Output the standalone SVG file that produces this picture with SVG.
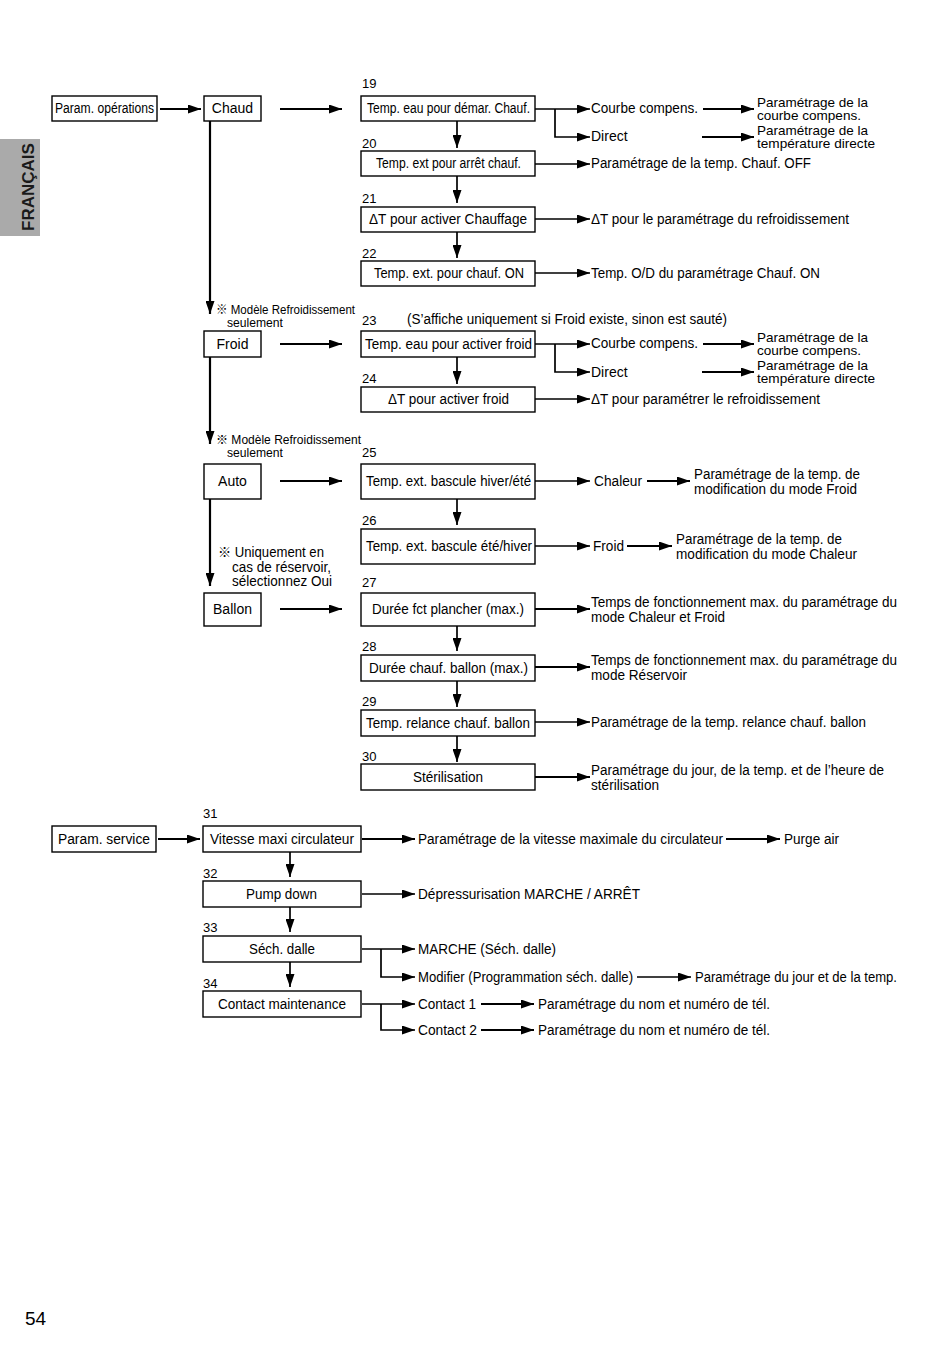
<svg xmlns="http://www.w3.org/2000/svg" width="950" height="1348" viewBox="0 0 950 1348">
<style>
text{font-family:"Liberation Sans",Arial,"Noto Sans CJK JP",sans-serif;fill:#000}
.b{font-size:14px}
.t{font-size:14px}
.s{font-size:13px}
.n{font-size:13px}
.m{text-anchor:middle}
rect.box{fill:#fff;stroke:#000;stroke-width:1.4}
.c path{fill:none;stroke:#000;stroke-width:1.7}
.c .k{stroke-width:2.2}
</style>
<defs>
<marker id="ah" viewBox="0 0 13 9" refX="13" refY="4.5" markerWidth="13" markerHeight="9" markerUnits="userSpaceOnUse" orient="auto"><path d="M0,0 L13,4.5 L0,9 z" fill="#000"/></marker>
</defs>
<rect width="950" height="1348" fill="#fff"/>
<g id="tab"><rect x="0" y="139" width="40" height="97" fill="#aaaaaa"/><text transform="translate(34,187) rotate(-90)" class="m" style="font-size:17px;font-weight:bold;fill:#1a1a1a">FRANÇAIS</text></g>
<text x="25" y="1325" style="font-size:19px">54</text>

<g class="c" id="connectors">
<path class="k" d="M160,109 H201" marker-end="url(#ah)"/>
<path class="k" d="M280,109 H342" marker-end="url(#ah)"/>
<path d="M535,109 H590" marker-end="url(#ah)"/>
<path d="M555,109 V137 H590" marker-end="url(#ah)"/>
<path class="k" d="M703,109 H754" marker-end="url(#ah)"/>
<path class="k" d="M702,137 H754" marker-end="url(#ah)"/>
<path d="M457,121 V148" marker-end="url(#ah)"/>
<path d="M535,164 H590" marker-end="url(#ah)"/>
<path d="M457,176 V203" marker-end="url(#ah)"/>
<path d="M535,219 H590" marker-end="url(#ah)"/>
<path d="M457,232 V258" marker-end="url(#ah)"/>
<path d="M535,273 H590" marker-end="url(#ah)"/>
<path class="k" d="M210,121 V314" marker-end="url(#ah)"/>
<path class="k" d="M280,344 H342" marker-end="url(#ah)"/>
<path d="M535,344 H590" marker-end="url(#ah)"/>
<path d="M555,344 V372 H590" marker-end="url(#ah)"/>
<path class="k" d="M703,344 H754" marker-end="url(#ah)"/>
<path class="k" d="M702,372 H754" marker-end="url(#ah)"/>
<path d="M457,357 V384" marker-end="url(#ah)"/>
<path d="M535,399 H590" marker-end="url(#ah)"/>
<path class="k" d="M210,357 V444" marker-end="url(#ah)"/>
<path class="k" d="M280,481 H342" marker-end="url(#ah)"/>
<path d="M535,481 H590" marker-end="url(#ah)"/>
<path class="k" d="M647,481 H690" marker-end="url(#ah)"/>
<path d="M457,499 V525" marker-end="url(#ah)"/>
<path d="M535,546 H590" marker-end="url(#ah)"/>
<path class="k" d="M627,546 H672" marker-end="url(#ah)"/>
<path class="k" d="M210,499 V586" marker-end="url(#ah)"/>
<path class="k" d="M280,609 H342" marker-end="url(#ah)"/>
<path class="k" d="M535,609 H590" marker-end="url(#ah)"/>
<path d="M457,626 V651" marker-end="url(#ah)"/>
<path class="k" d="M535,667 H590" marker-end="url(#ah)"/>
<path d="M457,681 V707" marker-end="url(#ah)"/>
<path d="M535,722 H590" marker-end="url(#ah)"/>
<path d="M457,736 V762" marker-end="url(#ah)"/>
<path class="k" d="M535,777 H590" marker-end="url(#ah)"/>
<path class="k" d="M158,839 H200" marker-end="url(#ah)"/>
<path class="k" d="M362,839 H415" marker-end="url(#ah)"/>
<path class="k" d="M726,839 H780" marker-end="url(#ah)"/>
<path d="M290,852 V877" marker-end="url(#ah)"/>
<path d="M362,894 H415" marker-end="url(#ah)"/>
<path d="M290,907 V932" marker-end="url(#ah)"/>
<path d="M362,949 H415" marker-end="url(#ah)"/>
<path d="M381,949 V977 H415" marker-end="url(#ah)"/>
<path d="M637,977 H691" marker-end="url(#ah)"/>
<path d="M290,962 V987" marker-end="url(#ah)"/>
<path d="M362,1004 H415" marker-end="url(#ah)"/>
<path d="M381,1004 V1030 H415" marker-end="url(#ah)"/>
<path class="k" d="M481,1004 H534" marker-end="url(#ah)"/>
<path class="k" d="M481,1030 H534" marker-end="url(#ah)"/>
</g>

<g id="n-param-op"><rect class="box" x="52" y="96" width="105" height="25"/><text class="b" x="55" y="113" textLength="99" lengthAdjust="spacingAndGlyphs">Param. opérations</text></g>
<g id="n-chaud"><rect class="box" x="204" y="96" width="57" height="25"/><text class="b m" x="232.5" y="113">Chaud</text></g>
<g id="n19"><text class="n" x="362" y="88">19</text><rect class="box" x="361" y="96" width="174" height="25"/><text class="b" x="367" y="113" textLength="163" lengthAdjust="spacingAndGlyphs">Temp. eau pour démar. Chauf.</text></g>
<g id="n19-courbe"><text class="t" x="591" y="113" textLength="107" lengthAdjust="spacingAndGlyphs">Courbe compens.</text></g>
<g id="n19-courbe-p"><text class="s" x="757" y="107" textLength="111" lengthAdjust="spacingAndGlyphs">Paramétrage de la</text><text class="s" x="757" y="120" textLength="104" lengthAdjust="spacingAndGlyphs">courbe compens.</text></g>
<g id="n19-direct"><text class="t" x="591" y="141">Direct</text></g>
<g id="n19-direct-p"><text class="s" x="757" y="135" textLength="111" lengthAdjust="spacingAndGlyphs">Paramétrage de la</text><text class="s" x="757" y="148" textLength="118" lengthAdjust="spacingAndGlyphs">température directe</text></g>

<g id="n20"><text class="n" x="362" y="148">20</text><rect class="box" x="361" y="151" width="174" height="25"/><text class="b" x="376" y="168" textLength="145" lengthAdjust="spacingAndGlyphs">Temp. ext pour arrêt chauf.</text></g>
<g id="n20-r"><text class="t" x="591" y="168" textLength="220" lengthAdjust="spacingAndGlyphs">Paramétrage de la temp. Chauf. OFF</text></g>
<g id="n21"><text class="n" x="362" y="203">21</text><rect class="box" x="361" y="207" width="174" height="25"/><text class="b" x="369" y="224" textLength="158" lengthAdjust="spacingAndGlyphs">ΔT pour activer Chauffage</text></g>
<g id="n21-r"><text class="t" x="591" y="224" textLength="258" lengthAdjust="spacingAndGlyphs">ΔT pour le paramétrage du refroidissement</text></g>
<g id="n22"><text class="n" x="362" y="258">22</text><rect class="box" x="361" y="261" width="174" height="25"/><text class="b" x="374" y="278" textLength="150" lengthAdjust="spacingAndGlyphs">Temp. ext. pour chauf. ON</text></g>
<g id="n22-r"><text class="t" x="591" y="278" textLength="229" lengthAdjust="spacingAndGlyphs">Temp. O/D du paramétrage Chauf. ON</text></g>

<g id="note1"><text x="216" y="314" style="font-size:12px" textLength="139" lengthAdjust="spacingAndGlyphs">※ Modèle Refroidissement</text><text class="s" x="227" y="327" textLength="56" lengthAdjust="spacingAndGlyphs">seulement</text></g>
<g id="n-froid"><rect class="box" x="204" y="331" width="57" height="26"/><text class="b m" x="232.5" y="349">Froid</text></g>
<g id="n23"><text class="n" x="362" y="325">23</text><text class="t" x="407" y="324" textLength="320" lengthAdjust="spacingAndGlyphs">(S’affiche uniquement si Froid existe, sinon est sauté)</text><rect class="box" x="361" y="331" width="174" height="26"/><text class="b" x="365" y="349" textLength="167" lengthAdjust="spacingAndGlyphs">Temp. eau pour activer froid</text></g>
<g id="n23-courbe"><text class="t" x="591" y="348" textLength="107" lengthAdjust="spacingAndGlyphs">Courbe compens.</text></g>
<g id="n23-courbe-p"><text class="s" x="757" y="342" textLength="111" lengthAdjust="spacingAndGlyphs">Paramétrage de la</text><text class="s" x="757" y="355" textLength="104" lengthAdjust="spacingAndGlyphs">courbe compens.</text></g>
<g id="n23-direct"><text class="t" x="591" y="377">Direct</text></g>
<g id="n23-direct-p"><text class="s" x="757" y="370" textLength="111" lengthAdjust="spacingAndGlyphs">Paramétrage de la</text><text class="s" x="757" y="383" textLength="118" lengthAdjust="spacingAndGlyphs">température directe</text></g>
<g id="n24"><text class="n" x="362" y="383">24</text><rect class="box" x="361" y="387" width="174" height="25"/><text class="b" x="388" y="404" textLength="121" lengthAdjust="spacingAndGlyphs">ΔT pour activer froid</text></g>
<g id="n24-r"><text class="t" x="591" y="404" textLength="229" lengthAdjust="spacingAndGlyphs">ΔT pour paramétrer le refroidissement</text></g>

<g id="note2"><text class="s" x="216" y="444" textLength="145" lengthAdjust="spacingAndGlyphs">※ Modèle Refroidissement</text><text class="s" x="227" y="457" textLength="56" lengthAdjust="spacingAndGlyphs">seulement</text></g>
<g id="n-auto"><rect class="box" x="204" y="464" width="57" height="35"/><text class="b m" x="232.5" y="486">Auto</text></g>
<g id="n25"><text class="n" x="362" y="457">25</text><rect class="box" x="361" y="464" width="174" height="35"/><text class="b" x="366" y="486" textLength="165" lengthAdjust="spacingAndGlyphs">Temp. ext. bascule hiver/été</text></g>
<g id="n25-chaleur"><text class="t" x="594" y="486" textLength="48" lengthAdjust="spacingAndGlyphs">Chaleur</text></g>
<g id="n25-p"><text class="t" x="694" y="479" textLength="166" lengthAdjust="spacingAndGlyphs">Paramétrage de la temp. de</text><text class="t" x="694" y="494" textLength="163" lengthAdjust="spacingAndGlyphs">modification du mode Froid</text></g>
<g id="n26"><text class="n" x="362" y="525">26</text><rect class="box" x="361" y="529" width="174" height="35"/><text class="b" x="366" y="551" textLength="166" lengthAdjust="spacingAndGlyphs">Temp. ext. bascule été/hiver</text></g>
<g id="n26-froid"><text class="t" x="593" y="551" textLength="31" lengthAdjust="spacingAndGlyphs">Froid</text></g>
<g id="n26-p"><text class="t" x="676" y="544" textLength="166" lengthAdjust="spacingAndGlyphs">Paramétrage de la temp. de</text><text class="t" x="676" y="559" textLength="181" lengthAdjust="spacingAndGlyphs">modification du mode Chaleur</text></g>

<g id="note3"><text class="t" x="218" y="557" textLength="106" lengthAdjust="spacingAndGlyphs">※ Uniquement en</text><text class="t" x="232" y="572" textLength="99" lengthAdjust="spacingAndGlyphs">cas de réservoir,</text><text class="t" x="232" y="586" textLength="100" lengthAdjust="spacingAndGlyphs">sélectionnez Oui</text></g>
<g id="n-ballon"><rect class="box" x="204" y="593" width="57" height="33"/><text class="b m" x="232.5" y="614">Ballon</text></g>
<g id="n27"><text class="n" x="362" y="587">27</text><rect class="box" x="361" y="593" width="174" height="33"/><text class="b" x="372" y="614" textLength="152" lengthAdjust="spacingAndGlyphs">Durée fct plancher (max.)</text></g>
<g id="n27-r"><text class="t" x="591" y="607" textLength="306" lengthAdjust="spacingAndGlyphs">Temps de fonctionnement max. du paramétrage du</text><text class="t" x="591" y="622" textLength="134" lengthAdjust="spacingAndGlyphs">mode Chaleur et Froid</text></g>
<g id="n28"><text class="n" x="362" y="651">28</text><rect class="box" x="361" y="655" width="174" height="26"/><text class="b" x="369" y="673" textLength="159" lengthAdjust="spacingAndGlyphs">Durée chauf. ballon (max.)</text></g>
<g id="n28-r"><text class="t" x="591" y="665" textLength="306" lengthAdjust="spacingAndGlyphs">Temps de fonctionnement max. du paramétrage du</text><text class="t" x="591" y="680" textLength="96" lengthAdjust="spacingAndGlyphs">mode Réservoir</text></g>
<g id="n29"><text class="n" x="362" y="706">29</text><rect class="box" x="361" y="710" width="174" height="26"/><text class="b" x="366" y="728" textLength="164" lengthAdjust="spacingAndGlyphs">Temp. relance chauf. ballon</text></g>
<g id="n29-r"><text class="t" x="591" y="727" textLength="275" lengthAdjust="spacingAndGlyphs">Paramétrage de la temp. relance chauf. ballon</text></g>
<g id="n30"><text class="n" x="362" y="761">30</text><rect class="box" x="361" y="764" width="174" height="26"/><text class="b" x="413" y="782" textLength="70" lengthAdjust="spacingAndGlyphs">Stérilisation</text></g>
<g id="n30-r"><text class="t" x="591" y="775" textLength="293" lengthAdjust="spacingAndGlyphs">Paramétrage du jour, de la temp. et de l’heure de</text><text class="t" x="591" y="790" textLength="68" lengthAdjust="spacingAndGlyphs">stérilisation</text></g>

<g id="n-param-svc"><rect class="box" x="52" y="826" width="104" height="26"/><text class="b" x="58" y="844" textLength="92" lengthAdjust="spacingAndGlyphs">Param. service</text></g>
<g id="n31"><text class="n" x="203" y="818">31</text><rect class="box" x="203" y="826" width="158" height="26"/><text class="b" x="210" y="844" textLength="144" lengthAdjust="spacingAndGlyphs">Vitesse maxi circulateur</text></g>
<g id="n31-r"><text class="t" x="418" y="844" textLength="305" lengthAdjust="spacingAndGlyphs">Paramétrage de la vitesse maximale du circulateur</text></g>
<g id="n31-purge"><text class="t" x="784" y="844" textLength="55" lengthAdjust="spacingAndGlyphs">Purge air</text></g>
<g id="n32"><text class="n" x="203" y="878">32</text><rect class="box" x="203" y="881" width="158" height="26"/><text class="b" x="246" y="899" textLength="71" lengthAdjust="spacingAndGlyphs">Pump down</text></g>
<g id="n32-r"><text class="t" x="418" y="899" textLength="222" lengthAdjust="spacingAndGlyphs">Dépressurisation MARCHE / ARRÊT</text></g>
<g id="n33"><text class="n" x="203" y="932">33</text><rect class="box" x="203" y="936" width="158" height="26"/><text class="b" x="249" y="954" textLength="66" lengthAdjust="spacingAndGlyphs">Séch. dalle</text></g>
<g id="n33-marche"><text class="t" x="418" y="954" textLength="138" lengthAdjust="spacingAndGlyphs">MARCHE (Séch. dalle)</text></g>
<g id="n33-modif"><text class="t" x="418" y="982" textLength="215" lengthAdjust="spacingAndGlyphs">Modifier (Programmation séch. dalle)</text></g>
<g id="n33-p"><text class="t" x="695" y="982" textLength="202" lengthAdjust="spacingAndGlyphs">Paramétrage du jour et de la temp.</text></g>
<g id="n34"><text class="n" x="203" y="988">34</text><rect class="box" x="203" y="991" width="158" height="26"/><text class="b" x="218" y="1009" textLength="128" lengthAdjust="spacingAndGlyphs">Contact maintenance</text></g>
<g id="n34-c1"><text class="t" x="418" y="1009" textLength="58" lengthAdjust="spacingAndGlyphs">Contact 1</text></g>
<g id="n34-c1p"><text class="t" x="538" y="1009" textLength="232" lengthAdjust="spacingAndGlyphs">Paramétrage du nom et numéro de tél.</text></g>
<g id="n34-c2"><text class="t" x="418" y="1035" textLength="59" lengthAdjust="spacingAndGlyphs">Contact 2</text></g>
<g id="n34-c2p"><text class="t" x="538" y="1035" textLength="232" lengthAdjust="spacingAndGlyphs">Paramétrage du nom et numéro de tél.</text></g>
</svg>
